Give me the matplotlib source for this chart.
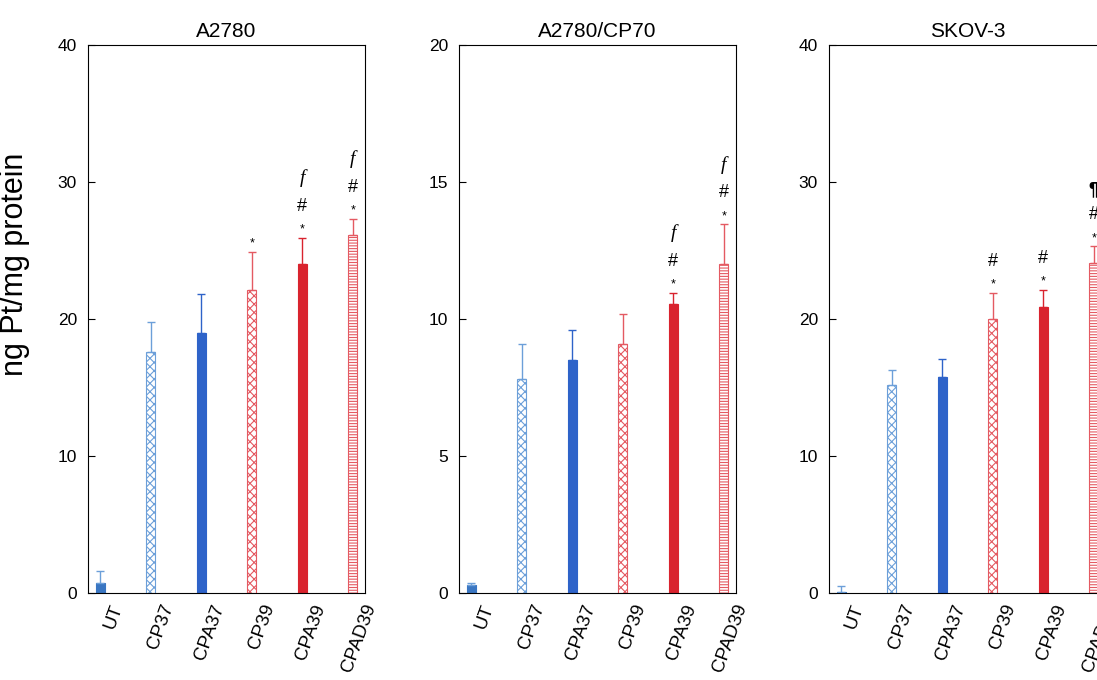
import numpy as np
import matplotlib
matplotlib.use('Agg')
import matplotlib.pyplot as plt
import matplotlib.transforms as mtransforms

plt.rcParams['font.family'] = ['Liberation Sans', 'DejaVu Sans']
plt.rcParams['hatch.linewidth'] = 0.8

groups = ['UT', 'CP37', 'CPA37', 'CP39', 'CPA39', 'CPAD39']
titles = ['A2780', 'A2780/CP70', 'SKOV-3']
ymax = [40, 20, 40]
yticks = [[0, 10, 20, 30, 40], [0, 5, 10, 15, 20], [0, 10, 20, 30, 40]]

# mean uptake and upper error (SD)
a2780 = [0.7, 17.6, 19.0, 22.1, 24.0, 26.1]
a2780_err = [0.9, 2.2, 2.8, 2.8, 1.9, 1.2]
cp70 = [0.3, 7.8, 8.5, 9.1, 10.55, 12.0]
cp70_err = [0.05, 1.3, 1.1, 1.1, 0.4, 1.45]
skov3 = [0.1, 15.2, 15.8, 20.0, 20.9, 24.1]
skov3_err = [0.4, 1.1, 1.3, 1.9, 1.2, 1.2]

# significance marks above each bar (bottom to top)
a2780_sig = [[], [], [], ['*'], ['*', '#', 'f'], ['*', '#', 'f']]
cp70_sig = [[], [], [], [], ['*', '#', 'f'], ['*', '#', 'f']]
skov3_sig = [[], [], [], ['*', '#'], ['*', '#'], ['*', '#', '¶']]

values = [a2780, cp70, skov3]
errors = [a2780_err, cp70_err, skov3_err]
sigs = [a2780_sig, cp70_sig, skov3_sig]

lblue = '#6c9fd9'
blue = '#2e63c9'
red = '#d9232e'
lred = '#e45a62'
face = ['#3a76c2', 'white', blue, 'white', red, 'white']
edge = ['#3a76c2', lblue, blue, lred, red, lred]
hatch = [None, 'xxxx', None, 'xxxx', None, '------']
errc = [lblue, lblue, blue, lred, red, lred]

fig = plt.figure(figsize=(10.97, 6.80), dpi=100)
lefts = [88, 459, 829]
x = np.arange(len(groups))

for k in range(3):
    ax = fig.add_axes([lefts[k] / 1097, 87 / 680, 277 / 1097, 548 / 680])
    for i in range(len(groups)):
        ax.bar(x[i], values[k][i], width=0.18, color=face[i], edgecolor=edge[i],
               hatch=hatch[i], linewidth=0.8)
        ax.errorbar(x[i], values[k][i], yerr=[[0], [errors[k][i]]], fmt='none',
                    ecolor=errc[i], elinewidth=1.0, capsize=3, capthick=1.0)
        top = values[k][i] + errors[k][i]
        for j, s in enumerate(sigs[k][i]):
            if s == 'f':
                ax.annotate('f', (x[i], top), xytext=(0, 43), textcoords='offset points',
                            ha='center', va='center', fontsize=14, style='italic',
                            family='Liberation Serif')
            elif s == '*':
                ax.annotate('*', (x[i], top), xytext=(0, 6), textcoords='offset points',
                            ha='center', va='center', fontsize=9)
            elif s == '#':
                ax.annotate('#', (x[i], top), xytext=(0, 23), textcoords='offset points',
                            ha='center', va='center', fontsize=13)
            else:
                ax.annotate(s, (x[i], top), xytext=(0, 41), textcoords='offset points',
                            ha='center', va='center', fontsize=13, fontweight='bold')
    ax.set_xlim(-0.24, 5.24)
    ax.set_ylim(0, ymax[k])
    ax.set_yticks(yticks[k])
    ax.tick_params(axis='y', direction='in', length=5, labelsize=12.5, pad=8)
    ax.tick_params(axis='x', length=0, labelsize=13.5)
    ax.set_xticks(x)
    ax.set_xticklabels(groups, rotation=70, ha='right', rotation_mode='anchor')
    off = mtransforms.ScaledTranslation(10 / 100, -4 / 100, fig.dpi_scale_trans)
    for lab in ax.get_xticklabels():
        lab.set_transform(lab.get_transform() + off)
    ax.set_title(titles[k], fontsize=15, pad=6)
    for sp in ax.spines.values():
        sp.set_linewidth(0.8)
    if k == 0:
        ax.set_ylabel('ng Pt/mg protein', fontsize=22)
        ax.yaxis.set_label_coords(-0.21, 0.6)

plt.savefig('out.png')
